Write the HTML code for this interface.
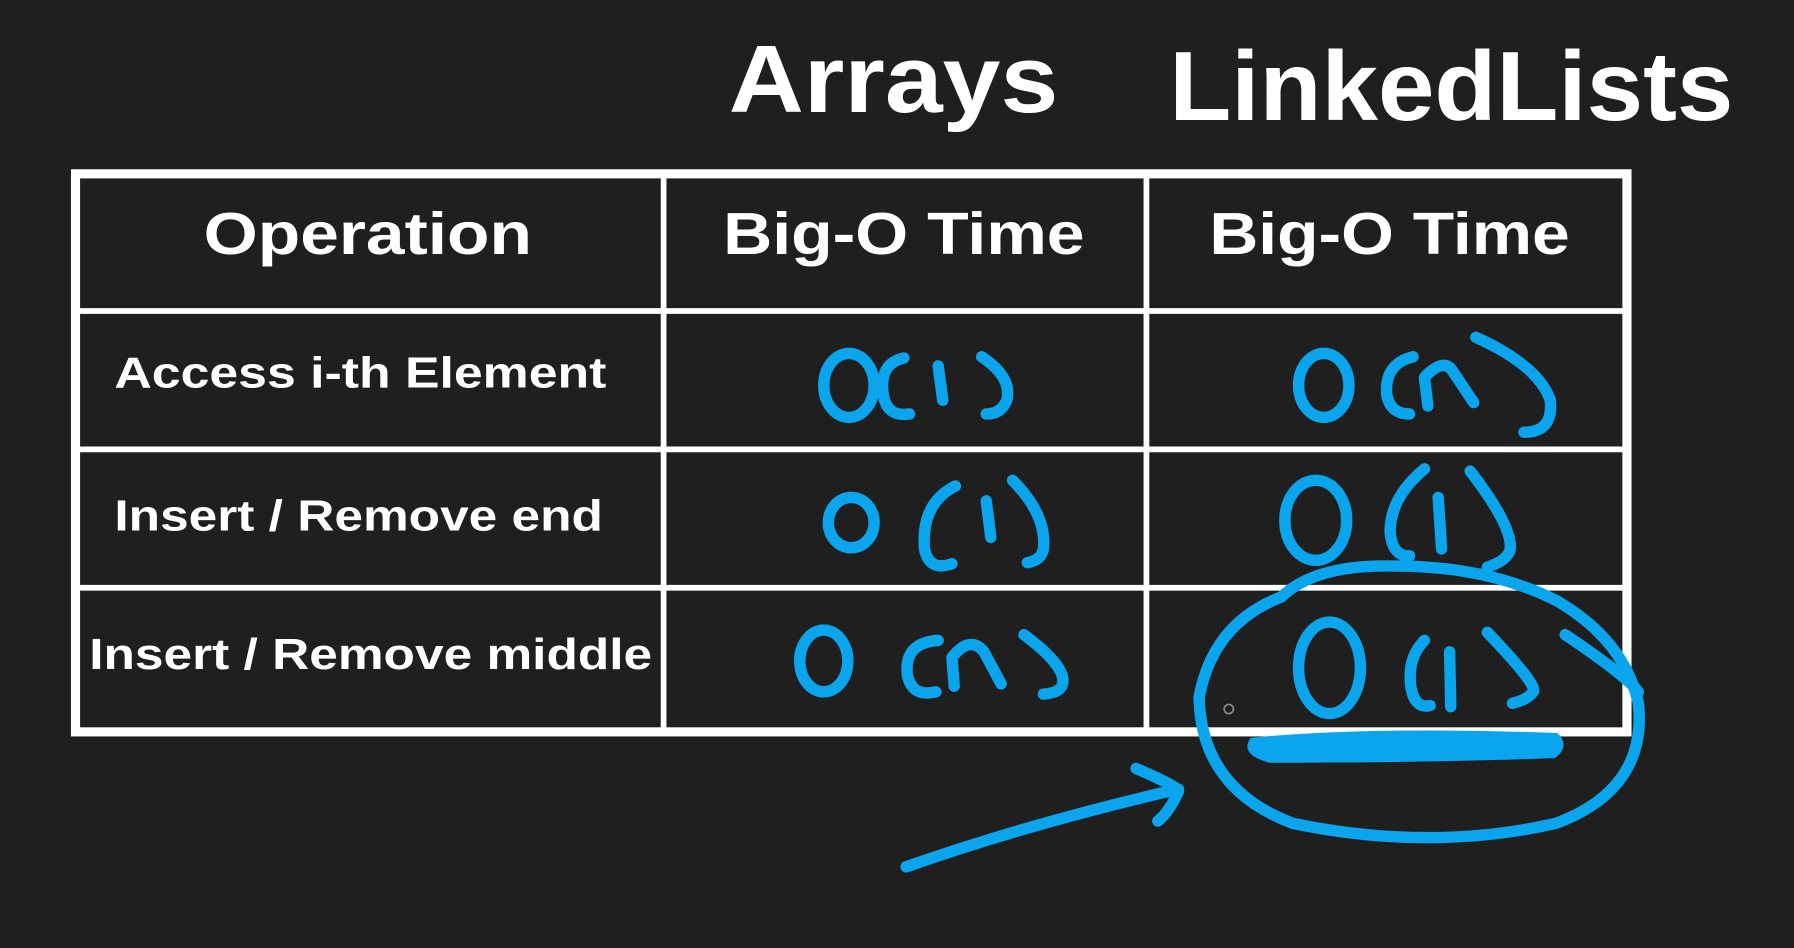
<!DOCTYPE html>
<html><head><meta charset="utf-8"><style>
html,body{margin:0;padding:0;background:#1f1f1f;}
svg{display:block}
text{font-family:"Liberation Sans",sans-serif;font-weight:bold;fill:#fff}
</style></head><body>
<svg width="1794" height="948" viewBox="0 0 1568 829" preserveAspectRatio="none">
<rect width="1568" height="829" fill="#1f1f1f"/>
<text x="637" y="98" font-size="84" textLength="288" lengthAdjust="spacingAndGlyphs">Arrays</text>
<text x="1022" y="105" font-size="86" textLength="493" lengthAdjust="spacingAndGlyphs">LinkedLists</text>
<g stroke="#fff" fill="none">
<rect x="66" y="152" width="1356" height="488" stroke-width="8"/>
<line x1="580" y1="152" x2="580" y2="640" stroke-width="5"/>
<line x1="1002" y1="152" x2="1002" y2="640" stroke-width="5"/>
<line x1="66" y1="272" x2="1422" y2="272" stroke-width="5"/>
<line x1="66" y1="393" x2="1422" y2="393" stroke-width="5"/>
<line x1="66" y1="514" x2="1422" y2="514" stroke-width="5"/>
</g>
<text x="178" y="222" font-size="52" textLength="287" lengthAdjust="spacingAndGlyphs">Operation</text>
<text x="632" y="222" font-size="52" textLength="316" lengthAdjust="spacingAndGlyphs">Big-O Time</text>
<text x="1057" y="222" font-size="52" textLength="315" lengthAdjust="spacingAndGlyphs">Big-O Time</text>
<text x="100" y="339" font-size="38" textLength="430" lengthAdjust="spacingAndGlyphs">Access i-th Element</text>
<text x="100" y="464" font-size="38" textLength="427" lengthAdjust="spacingAndGlyphs">Insert / Remove end</text>
<text x="78" y="585" font-size="38" textLength="492" lengthAdjust="spacingAndGlyphs">Insert / Remove middle</text>
<g stroke="#0aa5ec" stroke-width="10" fill="none" stroke-linecap="round" stroke-linejoin="round">
<ellipse cx="742" cy="337" rx="22" ry="28"/>
<path d="M790 313 Q768 318 772 345 Q775 365 795 362"/>
<path d="M820 320 L824 350"/>
<path d="M858 312 Q885 330 880 350 Q875 362 862 362"/>
<ellipse cx="1157" cy="337" rx="22" ry="28"/>
<path d="M1235 312 Q1210 318 1212 345 Q1215 362 1232 362"/>
<path d="M1248 355 L1245 330 Q1262 312 1270 325 L1288 352"/>
<path d="M1290 295 Q1345 320 1355 350 Q1358 378 1332 378"/>
<ellipse cx="744" cy="457" rx="20" ry="22"/>
<path d="M835 425 Q805 440 808 480 Q812 500 832 493"/>
<path d="M862 438 L866 470"/>
<path d="M885 420 Q915 450 912 480 Q910 490 898 492"/>
<ellipse cx="1150" cy="455" rx="27" ry="35"/>
<path d="M1245 410 Q1215 435 1215 465 Q1217 487 1232 486"/>
<path d="M1257 435 L1260 480"/>
<path d="M1285 412 Q1322 460 1320 480 Q1318 490 1300 496"/>
<ellipse cx="720" cy="578" rx="21" ry="27"/>
<path d="M820 560 Q790 562 793 590 Q797 610 818 605"/>
<path d="M834 600 L832 575 Q848 555 860 570 L875 598"/>
<path d="M895 555 Q935 585 928 600 Q925 606 912 607"/>
<ellipse cx="1162" cy="584" rx="27" ry="40"/>
<path d="M1245 560 Q1230 575 1233 600 Q1236 620 1250 617"/>
<path d="M1267 570 L1268 618"/>
<path d="M1300 553 Q1345 600 1340 605 Q1335 612 1322 615"/>
<path d="M1368 555 Q1420 590 1432 605"/>
<path d="M1120 522 Q1060 545 1048 610 Q1050 690 1130 720 Q1250 745 1360 720 Q1440 690 1432 615 Q1420 560 1360 525 Q1300 495 1220 495 Q1150 493 1120 522"/>
<path d="M792 758 Q900 720 1030 690"/>
<path d="M993 672 Q1030 688 1030 692 Q1022 710 1012 718"/>
</g>
<path d="M1095 648 Q1200 638 1360 644 Q1368 652 1358 660 Q1250 664 1110 664 Q1088 658 1095 648Z" fill="#0aa5ec" stroke="#0aa5ec" stroke-width="6"/>
<circle cx="1074" cy="620" r="4" fill="none" stroke="#888" stroke-width="1.5"/>
</svg>
</body></html>
